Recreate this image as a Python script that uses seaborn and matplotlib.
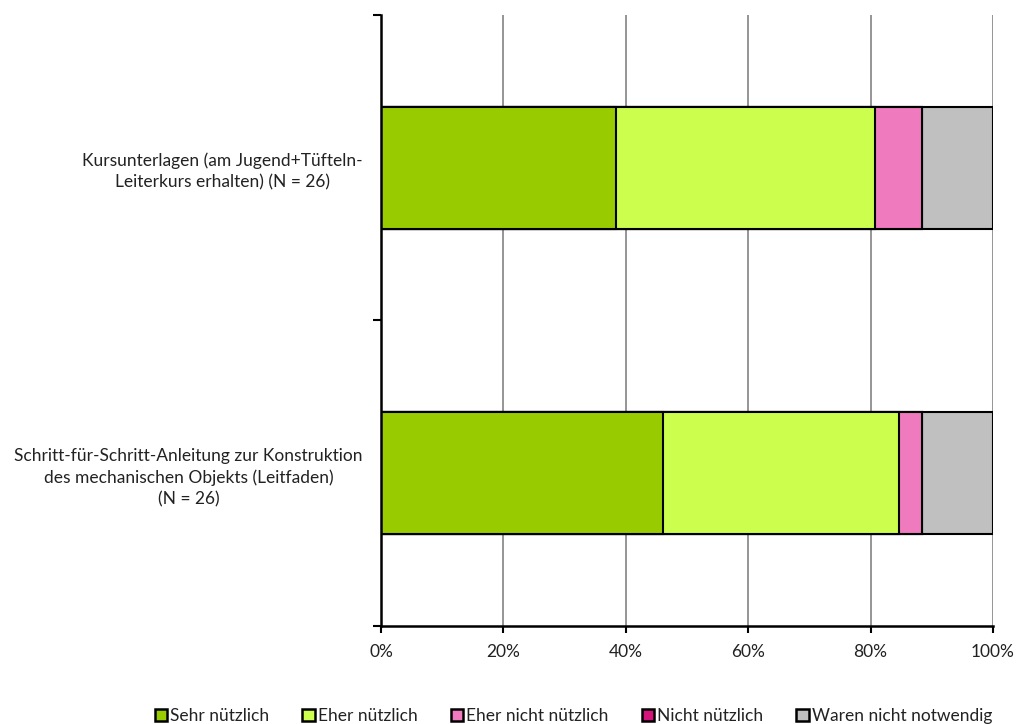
import matplotlib
matplotlib.use("Agg")
import matplotlib.pyplot as plt
import matplotlib.patches as mpatches
from matplotlib.ticker import FixedLocator, PercentFormatter
import numpy as np
import pandas as pd
import seaborn as sns

# Survey items (N = 26 each)
items = [
    "Kursunterlagen (am Jugend+Tüfteln-\nLeiterkurs erhalten) (N = 26)",
    "Schritt-für-Schritt-Anleitung zur Konstruktion\ndes mechanischen Objekts (Leitfaden)\n(N = 26)",
]
categories = ["Sehr nützlich", "Eher nützlich", "Eher nicht nützlich",
              "Nicht nützlich", "Waren nicht notwendig"]
counts_sehr = [10, 12]
counts_eher = [11, 10]
counts_eher_nicht = [2, 1]
counts_nicht = [0, 0]
counts_waren = [3, 3]
colors = ["#99CC00", "#CCFF4D", "#F07ABE", "#D4147A", "#C0C0C0"]

series = [counts_sehr, counts_eher, counts_eher_nicht, counts_nicht, counts_waren]
totals = np.sum(series, axis=0)
shares = [np.array(s) / totals * 100 for s in series]
cumulative = np.cumsum(shares, axis=0)

sns.set_style("white")
plt.rcParams["font.family"] = ["Lato", "DejaVu Sans"]
plt.rcParams["font.size"] = 12.5

fig = plt.figure(figsize=(10.17, 7.24), dpi=100)
ax = fig.add_axes([0.3746, 0.1354, 0.6018, 0.8439])

# Stacked bars: draw cumulative totals from the outermost segment inwards
for idx in range(len(categories) - 1, -1, -1):
    df = pd.DataFrame({"item": items, "value": cumulative[idx]})
    sns.barplot(data=df, x="value", y="item", orient="h", color=colors[idx],
                saturation=1, width=0.4, edgecolor="black", linewidth=1.5,
                ax=ax, zorder=3)

ax.set_xlim(0, 100)
ax.set_ylim(1.5, -0.5)
ax.set_xlabel("")
ax.set_ylabel("")

ax.xaxis.set_major_locator(FixedLocator([0, 20, 40, 60, 80, 100]))
ax.xaxis.set_major_formatter(PercentFormatter(decimals=0))
ax.grid(axis="x", color="#8c8c8c", linewidth=1.3, zorder=0)
ax.grid(axis="y", visible=False)

# Category separators as minor ticks on the y axis
ax.yaxis.set_minor_locator(FixedLocator([-0.5, 0.5, 1.5]))
ax.tick_params(axis="y", which="major", length=0, pad=13, labelsize=12.5, labelcolor="#222222")
ax.tick_params(axis="y", which="minor", length=6, width=1.5, color="black", left=True)
ax.tick_params(axis="x", which="major", length=5, width=1.5, color="black", bottom=True,
               pad=8, labelsize=12.5, labelcolor="#222222")
for lab in ax.get_yticklabels():
    lab.set_multialignment("center")
    lab.set_linespacing(1.4)

for side in ["top", "right"]:
    ax.spines[side].set_visible(False)
for side in ["left", "bottom"]:
    ax.spines[side].set_color("black")
    ax.spines[side].set_linewidth(1.8)
    ax.spines[side].set_zorder(4)

handles = [mpatches.Patch(facecolor=c, edgecolor="black", linewidth=1.8, label=l)
           for c, l in zip(colors, categories)]
fig.legend(handles=handles, loc="center", bbox_to_anchor=(0.564, 0.011), ncol=5,
           frameon=False, fontsize=12.5, handlelength=0.7, handleheight=0.7,
           handletextpad=0.2, columnspacing=1.9, labelcolor="#222222")

fig.savefig("out.png", dpi=100)
